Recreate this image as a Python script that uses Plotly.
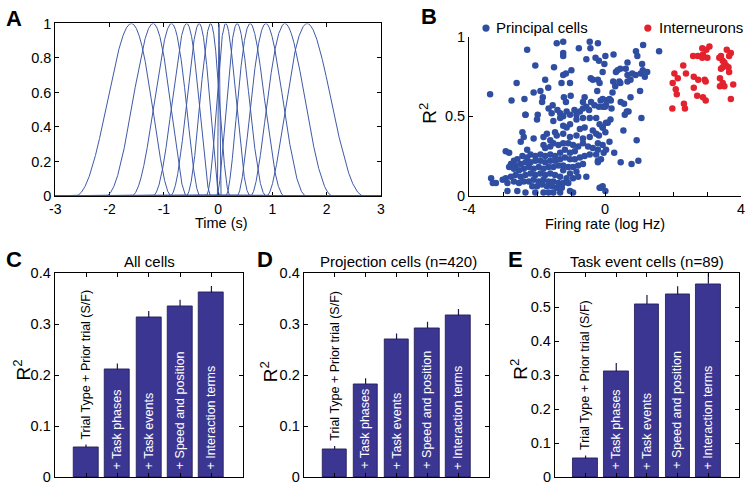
import numpy as np
import plotly.graph_objects as go

# ---------------- data ----------------
# Panel A: peak times (s) of the raised-cosine basis functions
basis_centers = [-1.60, -1.20, -0.86, -0.58, -0.35, -0.14, 0.14, 0.35, 0.59, 0.88, 1.23, 1.64]
basis_spacing = 0.167          # spacing in log(|t|+1) units
spike_center = 0.015
spike_halfwidth = 0.03

# Panel B: principal cells (log firing rate, R^2)
principal_x = [
    -2.29, -1.42, -1.23, -1.23, -1.23, -0.77, -0.45, -0.43, -0.21, -0.55, -0.28, -0.18, 0.01, -2.05, -1.50,
    -1.23, -1.15, -0.99, -1.76, -1.28, -1.03, -0.42, -0.36, -0.21, -0.16, -0.23, -2.60, -2.10, -1.90, -1.67,
    -3.38, -2.75, -2.37, -1.83, -1.85, -1.21, -1.01, -1.15, -1.66, -1.54, -1.40, -2.34, -1.98, -0.90, -0.74,
    -0.84, -0.65, -0.55, -0.47, -0.13, -0.07, 0.05, -0.18, -0.07, 0.03, -1.32, -1.13, -1.03, -1.23, -1.57,
    -0.65, -0.60, -0.41, -0.31,
    1.12, 1.59, 0.91, 0.95, 0.25, 1.09, 1.11, 1.24, 1.05, 1.17, 0.90, 0.66, 0.61, 0.45, 0.37,
    0.32, -0.02, -0.07, 0.66, 0.80, 0.75, 0.66, 0.42, 0.24, 0.45, 1.03, 0.75, 0.13, 0.06, 0.00,
    0.46, 0.19, 0.58, 0.69, 1.07, 0.16, 0.08, -0.07, 0.54, 0.01, -0.18, 0.93, 0.13, -0.04, 0.27,
    -0.21, -0.21, 0.98, 0.78, 0.46, -0.13, 0.01, 0.17, 0.22, 0.30, 0.56, 0.64,
    -2.34, -2.00, -1.52, -1.32, -1.13, -1.03, -0.84, -0.65, -0.45, -0.26, -0.16, -0.07, -0.36, -0.60, -0.74,
    -1.23, -1.47, -1.71, -1.81, -1.61, -1.42, -1.23, -1.03, -0.84, -0.65, -0.45, -0.26, 0.03, -2.43, -2.39,
    -2.10, -2.48, -2.29, -2.92, -2.82,
    -1.81, -1.76, -1.61, -1.52, -1.37, -1.23, -1.08, -0.94, -0.79, -0.65, -0.50, -0.36, -0.21, -0.07, 0.03,
    -0.89, -1.03, -1.18, -1.32, -1.47, -1.61, -1.76, -1.90, -2.05, -2.19, -2.29, -2.43, -2.58, -2.68, -2.77,
    -2.63, -2.48, -2.34, -2.19, -2.05, -1.90, -1.76, -1.61, -1.47, -1.32, -1.18, -1.03, -0.89, -0.74, -0.60,
    -0.45, -0.26, -0.12, -0.21,
    -2.82, -2.68, -2.53, -2.39, -2.24, -2.10, -1.95, -1.81, -1.66, -1.52, -1.37, -1.23, -1.08, -0.94, -0.79,
    -0.65, -1.23, -1.03, -0.84, -0.79, -0.55, -0.94, -1.13, -1.32, -1.47, -1.61, -1.76, -1.90, -2.05, -2.19,
    -2.34, -2.48, -2.63, -2.77, -2.92, -3.35, -3.21, -3.30, -3.01, -2.87, -2.68, -2.53, -2.39, -2.24, -2.10,
    -1.95, -1.81, -1.66, -1.52, -1.37, -1.23, -1.08, -2.14, -2.00, -1.85, -1.71, -1.56, -1.42, -1.27, -1.81,
    -1.66, -1.52, -1.32, -2.05, -2.34, -2.58, -2.87, -0.94, -1.03, -0.07, -0.16,
]
principal_y = [
    0.92, 0.96, 0.97, 0.90, 0.88, 0.93, 0.97, 0.93, 0.96, 0.86, 0.87, 0.85, 0.88, 0.82, 0.81,
    0.76, 0.77, 0.79, 0.73, 0.71, 0.71, 0.74, 0.73, 0.73, 0.71, 0.66, 0.71, 0.65, 0.66, 0.68,
    0.64, 0.60, 0.61, 0.62, 0.59, 0.62, 0.63, 0.59, 0.55, 0.57, 0.54, 0.51, 0.51, 0.54, 0.53,
    0.51, 0.55, 0.56, 0.54, 0.60, 0.61, 0.60, 0.56, 0.56, 0.57, 0.52, 0.53, 0.51, 0.50, 0.52,
    0.59, 0.62, 0.59, 0.57,
    0.95, 0.91, 0.91, 0.88, 0.89, 0.83, 0.79, 0.78, 0.77, 0.75, 0.76, 0.84, 0.80, 0.80, 0.79,
    0.78, 0.83, 0.78, 0.76, 0.77, 0.73, 0.72, 0.72, 0.72, 0.71, 0.66, 0.62, 0.61, 0.60, 0.56,
    0.59, 0.55, 0.51, 0.53, 0.49, 0.48, 0.46, 0.43, 0.41, 0.40, 0.38, 0.35, 0.34, 0.27, 0.27,
    0.29, 0.22, 0.22, 0.20, 0.21, 0.05, 0.03, 0.60, 0.65, 0.69, 0.58, 0.53,
    0.51, 0.48, 0.47, 0.49, 0.43, 0.45, 0.48, 0.49, 0.49, 0.49, 0.45, 0.43, 0.41, 0.43, 0.42,
    0.44, 0.40, 0.39, 0.37, 0.35, 0.38, 0.39, 0.37, 0.38, 0.36, 0.37, 0.39, 0.46, 0.40, 0.37,
    0.36, 0.34, 0.29, 0.28, 0.27,
    0.32, 0.30, 0.31, 0.33, 0.32, 0.33, 0.33, 0.32, 0.31, 0.33, 0.31, 0.30, 0.33, 0.32, 0.29,
    0.28, 0.27, 0.29, 0.27, 0.25, 0.26, 0.25, 0.26, 0.25, 0.26, 0.24, 0.25, 0.23, 0.22, 0.20,
    0.19, 0.20, 0.21, 0.21, 0.22, 0.22, 0.21, 0.22, 0.22, 0.23, 0.24, 0.23, 0.23, 0.24, 0.25,
    0.26, 0.26, 0.23, 0.21,
    0.18, 0.17, 0.16, 0.17, 0.18, 0.17, 0.18, 0.17, 0.18, 0.18, 0.19, 0.19, 0.18, 0.18, 0.19,
    0.20, 0.16, 0.14, 0.15, 0.12, 0.12, 0.11, 0.11, 0.12, 0.13, 0.14, 0.13, 0.14, 0.13, 0.14,
    0.13, 0.12, 0.13, 0.12, 0.11, 0.11, 0.08, 0.08, 0.10, 0.08, 0.09, 0.08, 0.09, 0.09, 0.10,
    0.09, 0.10, 0.09, 0.09, 0.08, 0.08, 0.08, 0.06, 0.06, 0.07, 0.06, 0.06, 0.05, 0.05, 0.02,
    0.02, 0.02, 0.02, 0.02, 0.02, 0.03, 0.03, 0.02, 0.03, 0.06, 0.05,
]

# Panel B: interneurons
inter_x = [
    2.86, 3.07, 2.98, 2.88, 2.73, 2.59, 3.01, 2.86, 3.58, 3.70, 3.65, 3.41, 3.36, 3.46, 3.51,
    3.56, 3.46, 3.41, 3.63, 3.65, 2.30, 2.04, 2.38, 2.14, 1.99, 2.08, 2.11, 2.32, 2.35, 1.98,
    2.61, 2.74, 2.93, 2.96, 2.61, 2.71, 2.88, 2.96, 3.38, 3.46, 3.38, 3.51, 3.77, 3.70,
]
inter_y = [
    0.93, 0.94, 0.92, 0.89, 0.88, 0.88, 0.87, 0.87, 0.92, 0.90, 0.88, 0.88, 0.87, 0.85, 0.84,
    0.82, 0.81, 0.80, 0.81, 0.78, 0.82, 0.77, 0.77, 0.74, 0.71, 0.67, 0.64, 0.58, 0.55, 0.55,
    0.75, 0.73, 0.73, 0.72, 0.68, 0.63, 0.62, 0.60, 0.74, 0.71, 0.69, 0.69, 0.70, 0.61,
]

# Panels C-E
model_labels = ["Trial Type + Prior trial (S/F)", "+ Task phases", "+ Task events",
                "+ Speed and position", "+ Interaction terms"]
model_pos = [1, 2, 3, 4, 5]
all_vals = [0.058, 0.211, 0.313, 0.336, 0.362]
all_err = [0.006, 0.012, 0.013, 0.012, 0.013]
proj_vals = [0.055, 0.183, 0.270, 0.292, 0.317]
proj_err = [0.006, 0.011, 0.012, 0.013, 0.013]
event_vals = [0.054, 0.312, 0.510, 0.537, 0.569]
event_err = [0.010, 0.024, 0.026, 0.025, 0.031]

# ---------------- figure ----------------
W, H = 748, 490
FONT = "Liberation Sans, Arial, Helvetica, sans-serif"
LINE_BLUE = "#3f59a7"
DOT_BLUE = "#2f4ea2"
DOT_RED = "#e3222d"
BAR = "#3c3693"


def px(x):
    return x / W


def py(y):
    return 1 - y / H


fig = go.Figure()

# Panel A curves
t = np.linspace(-3, 3, 6001)
u = np.sign(t) * np.log1p(np.abs(t))
for c in basis_centers:
    uc = np.sign(c) * np.log1p(abs(c))
    ph = (u - uc) * np.pi / (2 * basis_spacing)
    f = np.where(np.abs(ph) < np.pi, 0.5 * (1 + np.cos(ph)), 0.0)
    fig.add_trace(go.Scatter(x=t, y=f, mode="lines", line=dict(color=LINE_BLUE, width=1),
                             xaxis="x", yaxis="y", cliponaxis=False, hoverinfo="skip"))
ph = (t - spike_center) * np.pi / spike_halfwidth
f = np.where(np.abs(ph) < np.pi, 0.5 * (1 + np.cos(ph)), 0.0)
fig.add_trace(go.Scatter(x=t, y=f, mode="lines", line=dict(color=LINE_BLUE, width=1),
                         xaxis="x", yaxis="y", cliponaxis=False, hoverinfo="skip"))

# Panel B scatter
fig.add_trace(go.Scatter(x=principal_x, y=principal_y, mode="markers",
                         marker=dict(color=DOT_BLUE, size=6.5, line=dict(width=0)),
                         xaxis="x2", yaxis="y2", cliponaxis=False, name="Principal cells"))
fig.add_trace(go.Scatter(x=inter_x, y=inter_y, mode="markers",
                         marker=dict(color=DOT_RED, size=6.5, line=dict(width=0)),
                         xaxis="x2", yaxis="y2", cliponaxis=False, name="Interneurons"))

# Panels C-E bars
for vals, errs, xa, ya in [(all_vals, all_err, "x3", "y3"),
                           (proj_vals, proj_err, "x4", "y4"),
                           (event_vals, event_err, "x5", "y5")]:
    fig.add_trace(go.Bar(x=model_pos, y=vals, width=0.8, xaxis=xa, yaxis=ya,
                         marker=dict(color=BAR, line=dict(color="#1c1850", width=0.8)),
                         error_y=dict(type="data", array=errs, arrayminus=[0] * len(errs),
                                      symmetric=False, color="#1c1850", thickness=1.2, width=0)))

axis_common = dict(showline=True, linecolor="black", linewidth=1, ticks="inside", ticklen=4,
                   tickcolor="black", tickwidth=1, showgrid=False, zeroline=False,
                   tickfont=dict(size=14.5, color="black", family=FONT))

layout = dict(
    width=W, height=H, margin=dict(l=0, r=0, t=0, b=0),
    paper_bgcolor="white", plot_bgcolor="white", showlegend=False,
    font=dict(family=FONT, color="black"),
    bargap=0,
)

# A axes
layout["xaxis"] = dict(axis_common, domain=[px(50), px(380)], anchor="y", range=[-3, 3],
                       tickvals=[-3, -2, -1, 0, 1, 2, 3],
                       ticktext=["-3", "-2", "-1", "0", "1", "2", "3"], mirror="ticks",
                       layer="below traces", tickfont=dict(size=14, color="black", family=FONT))
layout["yaxis"] = dict(axis_common, domain=[py(194.3), py(16)], anchor="x", range=[0, 1],
                       tickvals=[0, 0.2, 0.4, 0.6, 0.8, 1],
                       ticktext=["0", "0.2", "0.4", "0.6", "0.8", "1"], mirror="ticks",
                       layer="below traces")
# B axes
layout["xaxis2"] = dict(axis_common, domain=[px(469.3), px(745)], anchor="y2", range=[-4, 4],
                        tickvals=[-4, 0, 4], ticktext=["-4", "0", "4"],
                        minor=dict(tickvals=[-3, -2, -1, 1, 2, 3], ticks="inside", ticklen=4,
                                   tickcolor="black", tickwidth=1, showgrid=False))
layout["yaxis2"] = dict(axis_common, domain=[py(194), py(30)], anchor="x2", range=[0, 1],
                        tickvals=[0, 0.5, 1], ticktext=["0", "0.5", "1"])
# C-E axes
bar_doms = [(3, 49.3, 240, 0.4), (4, 301.7, 490, 0.4), (5, 556.3, 743, 0.6)]
for i, x0, x1, ymax in bar_doms:
    n = int(round(ymax * 10))
    yt = [k / 10 for k in range(n + 1)]
    layout[f"xaxis{i}"] = dict(axis_common, domain=[px(x0), px(x1)], anchor=f"y{i}",
                               range=[0, 6], tickvals=model_pos, showticklabels=False,
                               mirror="ticks")
    layout[f"yaxis{i}"] = dict(axis_common, domain=[py(485), py(274.3)], anchor=f"x{i}",
                               range=[0, ymax], tickvals=yt,
                               ticktext=["0" if v == 0 else f"{v:.1f}" for v in yt],
                               mirror="ticks")

annotations = []


def ptxt(text, x, y, size, bold=False, angle=0, xanchor="center", yanchor="middle", color="black"):
    annotations.append(dict(text=f"<b>{text}</b>" if bold else text, x=px(x), y=py(y),
                            xref="paper", yref="paper", showarrow=False, textangle=angle,
                            xanchor=xanchor, yanchor=yanchor,
                            font=dict(size=size, family=FONT, color=color)))


# Panel letters
ptxt("A", 8, 11, 22, bold=True)
ptxt("B", 429, 9, 22, bold=True)
ptxt("C", 8, 260, 22, bold=True)
ptxt("D", 263, 260, 22, bold=True)
ptxt("E", 516, 260, 22, bold=True)

# Axis titles
ptxt("Time (s)", 218, 222.5, 14.5)
ptxt("Firing rate (log Hz)", 607, 223, 14.5)
ptxt("R<sup>2</sup>", 428, 109, 19, angle=-90)
ptxt("R<sup>2</sup>", 16, 374, 19, angle=-90)
ptxt("R<sup>2</sup>", 266, 376, 19, angle=-90)
ptxt("R<sup>2</sup>", 520, 374, 19, angle=-90)

# Panel titles
ptxt("All cells", 145, 262, 15)
ptxt("Projection cells (n=420)", 398, 262, 15)
ptxt("Task event cells (n=89)", 650, 262, 15)

# Legend of B
ptxt("Principal cells", 495, 20.5, 15, xanchor="left")
ptxt("Interneurons", 660, 20.5, 15, xanchor="left")
shapes = []
for cx, col in [(486.5, DOT_BLUE), (650.5, DOT_RED)]:
    shapes.append(dict(type="circle", xref="paper", yref="paper", xsizemode="pixel",
                       ysizemode="pixel", xanchor=px(cx), yanchor=py(20.8),
                       x0=-3.6, x1=3.6, y0=-3.6, y1=3.6,
                       fillcolor=col, line=dict(width=0)))

# Bar labels
for vals, errs, i in [(all_vals, all_err, 3), (proj_vals, proj_err, 4), (event_vals, event_err, 5)]:
    for k, lab in enumerate(model_labels):
        if k == 0:
            annotations.append(dict(text=lab, x=model_pos[k], y=vals[k] + errs[k],
                                    xref=f"x{i}", yref=f"y{i}", showarrow=False, textangle=-90,
                                    xanchor="center", yanchor="bottom", yshift=3,
                                    font=dict(size=12.5, family=FONT, color="black")))
        else:
            annotations.append(dict(text=lab, x=model_pos[k], y=0,
                                    xref=f"x{i}", yref=f"y{i}", showarrow=False, textangle=-90,
                                    xanchor="center", yanchor="bottom", yshift=6,
                                    font=dict(size=12.5, family=FONT, color="white")))

layout["annotations"] = annotations
layout["shapes"] = shapes
fig.update_layout(**layout)
fig.write_html("out.html", config={"displayModeBar": False},
               post_script="document.body.style.margin='0px';")
